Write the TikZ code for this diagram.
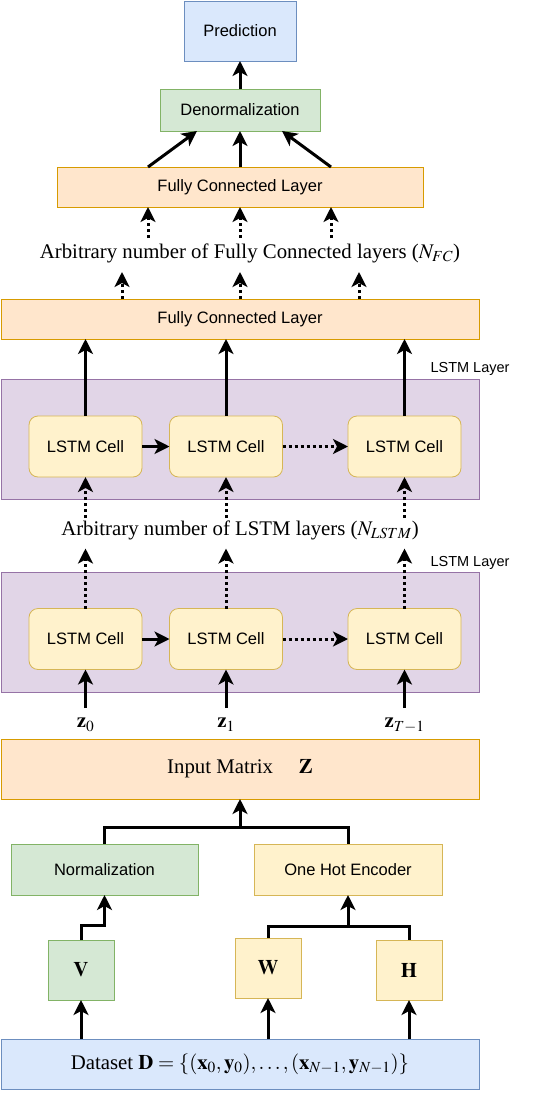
\documentclass[tikz,border=0pt]{standalone}
\usepackage{mathptmx}
\usepackage{fontspec}
\setmainfont{Liberation Serif}
\setsansfont{Liberation Sans}
\usetikzlibrary{arrows.meta, positioning}

\definecolor{fillblue}{HTML}{DAE8FC}
\definecolor{lineblue}{HTML}{6C8EBF}
\definecolor{fillgreen}{HTML}{D5E8D4}
\definecolor{linegreen}{HTML}{82B366}
\definecolor{fillorange}{HTML}{FFE6CC}
\definecolor{lineorange}{HTML}{D79B00}
\definecolor{fillyellow}{HTML}{FFF2CC}
\definecolor{lineyellow}{HTML}{D6B656}
\definecolor{fillpurple}{HTML}{E1D5E7}
\definecolor{linepurple}{HTML}{9673A6}

\begin{document}
\begin{tikzpicture}[x=1pt, y=-1pt,
    box/.style={draw, line width=0.8pt, inner sep=0pt, outer sep=0pt},
    bluebox/.style={box, draw=lineblue, fill=fillblue},
    greenbox/.style={box, draw=linegreen, fill=fillgreen},
    orangebox/.style={box, draw=lineorange, fill=fillorange},
    yellowbox/.style={box, draw=lineyellow, fill=fillyellow},
    purplebox/.style={box, draw=linepurple, fill=fillpurple},
    cell/.style={yellowbox, rounded corners=9pt, minimum width=113pt, minimum height=61pt, sans},
    sans/.style={font=\fontsize{16.5}{19}\selectfont\sffamily},
    small/.style={font=\fontsize{14.5}{17}\selectfont\sffamily},
    serif/.style={font=\fontsize{20.8}{25}\selectfont},
    arr/.style={line width=3pt, -{Stealth[length=15pt, width=15pt, inset=4pt]}},
    dotarr/.style={arr, dash pattern=on 3pt off 3pt},
    wire/.style={line width=3pt}]
    \useasboundingbox (0,0) rectangle (558,1097);

    \node[bluebox, minimum width=112pt, minimum height=60pt, sans] (pred) at (240,31) {Prediction};
    \node[greenbox, minimum width=160pt, minimum height=42pt, sans] (denorm) at (240,110) {Denormalization};
    \node[orangebox, minimum width=366pt, minimum height=40pt, sans] (fctop) at (240,187) {Fully Connected Layer};
    \node[serif] (txtfc) at (250,253) {Arbitrary number of Fully Connected layers ($N_{FC}$)};
    \node[orangebox, minimum width=478pt, minimum height=40pt, sans] (fcmid) at (240,319) {Fully Connected Layer};

    \node[purplebox, minimum width=478pt, minimum height=120pt] (lstmup) at (240,439) {};
    \node[small] (labup) at (470,369) {LSTM Layer};
    \node[cell] (cu1) at (85.5,446.5) {LSTM Cell};
    \node[cell] (cu2) at (226,446.5) {LSTM Cell};
    \node[cell] (cu3) at (404.5,446.5) {LSTM Cell};
    \node[serif] (txtlstm) at (240,530) {Arbitrary number of LSTM layers ($N_{LSTM}$)};

    \node[purplebox, minimum width=478pt, minimum height=120pt] (lstmlo) at (240,632) {};
    \node[small] (lablo) at (470,563) {LSTM Layer};
    \node[cell] (cl1) at (85.5,639) {LSTM Cell};
    \node[cell] (cl2) at (226,639) {LSTM Cell};
    \node[cell] (cl3) at (404.5,639) {LSTM Cell};
    \node[serif, inner sep=0pt, inner ysep=10pt, anchor=north] (z0) at (85.5,708) {$\mathbf{z}_0$};
    \node[serif, inner sep=0pt, inner ysep=10pt, anchor=north] (z1) at (226,708) {$\mathbf{z}_1$};
    \node[serif, inner sep=0pt, inner ysep=10pt, anchor=north] (z2) at (404.5,708) {$\mathbf{z}_{T-1}$};

    \node[orangebox, minimum width=478pt, minimum height=60pt, serif] (input) at (240,769) {Input Matrix \quad $\mathbf{Z}$};
    \node[greenbox, minimum width=187pt, minimum height=51pt, sans] (norm) at (104.5,869.5) {Normalization};
    \node[yellowbox, minimum width=188pt, minimum height=51pt, sans] (onehot) at (348,869.5) {One Hot Encoder};
    \node[greenbox, minimum width=66pt, minimum height=60pt, serif] (V) at (81,970) {$\mathbf{V}$};
    \node[yellowbox, minimum width=66pt, minimum height=60pt, serif] (W) at (268,968) {$\mathbf{W}$};
    \node[yellowbox, minimum width=66pt, minimum height=60pt, serif] (H) at (409,970) {$\mathbf{H}$};
    \node[bluebox, minimum width=478pt, minimum height=50pt, serif] (dataset) at (240,1064)
        {Dataset $\mathbf{D} = \{(\mathbf{x}_0, \mathbf{y}_0), \ldots, (\mathbf{x}_{N-1}, \mathbf{y}_{N-1})\}$};

    \draw[arr] (denorm.north) -- (pred.south);
    \draw[arr] ([xshift=-92pt]fctop.north) -- ([xshift=-43pt]denorm.south);
    \draw[arr] (fctop.north) -- (denorm.south);
    \draw[arr] ([xshift=91pt]fctop.north) -- ([xshift=42pt]denorm.south);
    \foreach \dx in {-92,0,91}
        \draw[dotarr] ([xshift=\dx pt, yshift=-31pt]fctop.south) -- ([xshift=\dx pt]fctop.south);
    \foreach \dx in {-118,0,119}
        \draw[dotarr] ([xshift=\dx pt]fcmid.north) -- ([xshift=\dx pt, yshift=27pt]fcmid.north);

    \foreach \c in {cu1,cu2,cu3} {
        \draw[arr] (\c.north) -- (\c.north |- fcmid.south);
        \draw[dotarr] ([yshift=-41pt]\c.south) -- (\c.south);
    }
    \draw[arr] (cu1.east) -- (cu2.west);
    \draw[dotarr] (cu2.east) -- (cu3.west);

    \foreach \c in {cl1,cl2,cl3}
        \draw[dotarr] (\c.north) -- ([yshift=60pt]\c.north);
    \draw[arr] (cl1.east) -- (cl2.west);
    \draw[dotarr] (cl2.east) -- (cl3.west);
    \draw[arr] (z0.north) -- (cl1.south);
    \draw[arr] (z1.north) -- (cl2.south);
    \draw[arr] (z2.north) -- (cl3.south);

    \coordinate (jin) at (240,827);
    \draw[wire] (norm.north) |- (jin) -| (onehot.north);
    \draw[arr] (jin) -- (input.south);
    \draw[arr] (V.north) -- ++(0,-15) -| (norm.south);
    \coordinate (jenc) at (348,926);
    \draw[wire] (W.north) |- (jenc) -| (H.north);
    \draw[arr] (jenc) -- (onehot.south);

    \draw[arr] (dataset.north -| V.south) -- (V.south);
    \draw[arr] (dataset.north -| W.south) -- (W.south);
    \draw[arr] (dataset.north -| H.south) -- (H.south);
\end{tikzpicture}
\end{document}
